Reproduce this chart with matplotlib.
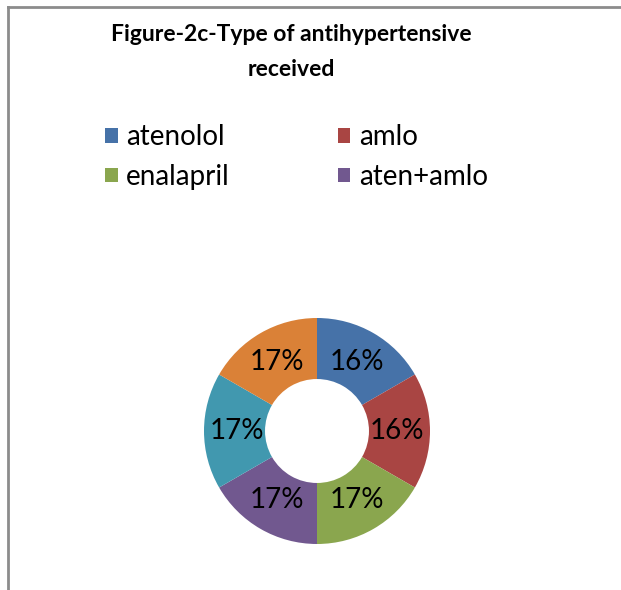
import matplotlib
matplotlib.use("Agg")
import matplotlib.pyplot as plt
import numpy as np
from matplotlib.patches import Patch
from matplotlib.lines import Line2D

plt.rcParams['font.family'] = ['Lato', 'DejaVu Sans']

# data
labels = ['atenolol', 'amlo', 'enalapril', 'aten+amlo', '', '']
shares = [1, 1, 1, 1, 1, 1]   # wedges drawn equal in the source
colors = ['#4672A8', '#A94543', '#8AA64E', '#71588F', '#4198AF', '#DA8137']
pct_text = ['16%', '16%', '17%', '17%', '17%', '17%']

fig = plt.figure(figsize=(6.21, 5.90), dpi=100)

# chart border (top and left edges visible)
fig.add_artist(Line2D([8/621, 8/621], [0, 1 - 7/590], color='#8c8c8c', lw=2))
fig.add_artist(Line2D([8/621, 1], [1 - 7/590, 1 - 7/590], color='#8c8c8c', lw=2))

fig.text(291 / 621, 0.96, 'Figure-2c-Type of antihypertensive\nreceived',
         ha='center', va='top', fontsize=16.5, fontweight='bold',
         linespacing=1.85)

ax = fig.add_axes([(317 - 113) / 621, (590 - 431 - 113) / 590, 226 / 621, 226 / 590])
wedges, _ = ax.pie(shares, colors=colors, startangle=90, counterclock=False,
                   radius=1, wedgeprops=dict(width=0.54, edgecolor='none'))
for w, t in zip(wedges, pct_text):
    ang = np.deg2rad((w.theta1 + w.theta2) / 2)
    ax.text(0.71 * np.cos(ang), 0.71 * np.sin(ang), t, ha='center', va='center',
            fontsize=20)
ax.set_xlim(-1, 1)
ax.set_ylim(-1, 1)
ax.set_aspect('equal')
ax.axis('off')

# legend fills column-wise, so order for row-wise reading
order = [0, 2, 1, 3]
handles = [Patch(facecolor=colors[i], edgecolor='none') for i in order]
fig.legend(handles, [labels[i] for i in order], ncol=2, frameon=False, fontsize=20,
           loc='upper left', bbox_to_anchor=(80 / 621, 1 - 99 / 590),
           handlelength=0.45, handleheight=0.45, handletextpad=0.3,
           columnspacing=3.9, labelspacing=0.5)

fig.savefig('out.png', dpi=100)
